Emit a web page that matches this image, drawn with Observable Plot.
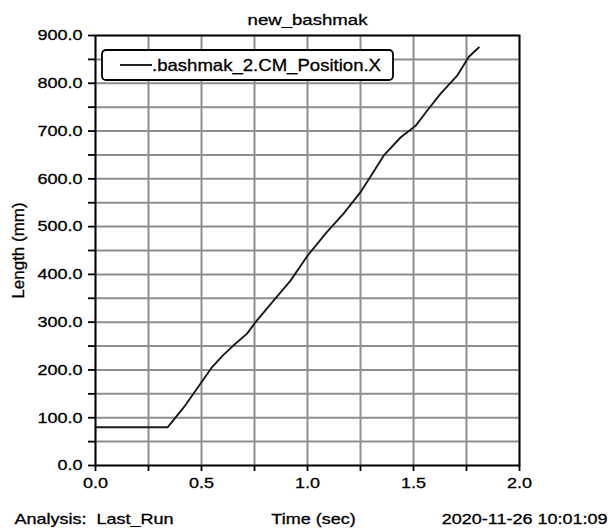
<!DOCTYPE html>
<html>
<head>
<meta charset="utf-8">
<script src="https://cdn.jsdelivr.net/npm/d3@7"></script>
<script src="https://cdn.jsdelivr.net/npm/@observablehq/plot@0.6"></script>
<style>
  html, body { margin: 0; padding: 0; background: white; }
  #chart svg text { stroke: black; stroke-width: 0.3px; }
</style>
</head>
<body>
<div id="chart"></div>
<script>
// ---- data ----
const timeSec = [0, 0.34, 0.417, 0.495, 0.55, 0.6, 0.65, 0.715, 0.755, 0.84, 0.92, 1.0, 1.09, 1.17, 1.25, 1.305, 1.36, 1.44, 1.51, 1.565, 1.627, 1.706, 1.76, 1.808];
const lengthMm = [80, 80, 122, 171, 206, 230, 251, 276, 300, 345, 387, 439, 488, 527, 572, 610, 649, 687, 711, 743, 778, 816, 855, 875];
const xTicks = [0, 0.25, 0.5, 0.75, 1, 1.25, 1.5, 1.75, 2];
const yTicks = [0, 50, 100, 150, 200, 250, 300, 350, 400, 450, 500, 550, 600, 650, 700, 750, 800, 850, 900];
const seriesName = ".bashmak_2.CM_Position.X";
const titleText = "new_bashmak";
const xLabel = "Time (sec)";
const yLabel = "Length (mm)";
const footLeft = "Analysis:  Last_Run";
const footRight = "2020-11-26 10:01:09";

const data = timeSec.map((t, i) => ({t, v: lengthMm[i]}));
const font = "'Liberation Sans', Arial, sans-serif";
const gridStyle = {stroke: "#8e8e8e", strokeOpacity: 1, strokeWidth: 2};

const chart = Plot.plot({
  width: 610,
  height: 530,
  marginLeft: 95,
  marginRight: 91,
  marginTop: 35,
  marginBottom: 65,
  style: {fontFamily: font, background: "white", color: "black", overflow: "visible"},
  x: {domain: [0, 2]},
  y: {domain: [0, 900]},
  marks: [
    Plot.gridX(xTicks, gridStyle),
    Plot.gridY(yTicks, gridStyle),
    Plot.axisX(xTicks, {
      tickSize: 6, tickPadding: 6, strokeWidth: 1.8,
      tickFormat: d => (Math.round(d * 100) % 50 === 0 ? d.toFixed(1) : ""),
      fontSize: 15, label: null
    }),
    Plot.axisY(yTicks, {
      tickSize: 7, tickPadding: 6, strokeWidth: 1.8,
      tickFormat: d => (d % 100 === 0 ? d.toFixed(1) : ""),
      fontSize: 15, label: null
    }),
    Plot.frame({stroke: "black", strokeWidth: 1.8}),
    Plot.line(data, {x: "t", y: "v", stroke: "#1a1a1a", strokeWidth: 1.9}),
    Plot.text([titleText], {frameAnchor: "top", dy: -11, lineAnchor: "bottom", fontSize: 15.5}),
    Plot.text([yLabel], {frameAnchor: "left", dx: -77, rotate: -90, textAnchor: "middle", lineAnchor: "middle", fontSize: 17}),
    Plot.text([xLabel], {frameAnchor: "bottom", dy: 58, dx: 6, lineAnchor: "bottom", fontSize: 15}),
    Plot.text([footLeft], {frameAnchor: "bottom-left", dx: -81, dy: 58, textAnchor: "start", lineAnchor: "bottom", fontSize: 15}),
    Plot.text([footRight], {frameAnchor: "bottom-right", dx: 88, dy: 58, textAnchor: "end", lineAnchor: "bottom", fontSize: 15})
  ]
});

// legend box
const svg = d3.select(chart);
const lg = svg.append("g").attr("font-family", font).attr("class", "legend");
lg.append("rect")
  .attr("x", 102).attr("y", 50).attr("width", 291).attr("height", 30).attr("rx", 4)
  .attr("fill", "white").attr("stroke", "black").attr("stroke-width", 1.8);
lg.append("line")
  .attr("x1", 120).attr("x2", 152).attr("y1", 65).attr("y2", 65)
  .attr("stroke", "#1a1a1a").attr("stroke-width", 1.9);
lg.append("text")
  .attr("x", 152).attr("y", 65).attr("dy", "0.35em")
  .attr("text-anchor", "start")
  .attr("font-size", 16.5).attr("fill", "black")
  .attr("class", "legend-text")
  .text(seriesName);

document.getElementById("chart").appendChild(chart);

// the reference's lettering is about 1.2x wider than the font: stretch horizontal texts
const stretch = 1.2;
svg.selectAll("text").each(function() {
  const t = d3.select(this);
  const own = t.attr("transform") || "";
  const parent = this.parentNode.getAttribute("transform") || "";
  if (/rotate/.test(own + parent)) return;
  const len = this.getComputedTextLength();
  if (!(len > 0)) return;
  const newLen = t.classed("legend-text") ? 229 : len * stretch;
  t.attr("textLength", newLen.toFixed(1)).attr("lengthAdjust", "spacingAndGlyphs");
});
</script>
</body>
</html>
